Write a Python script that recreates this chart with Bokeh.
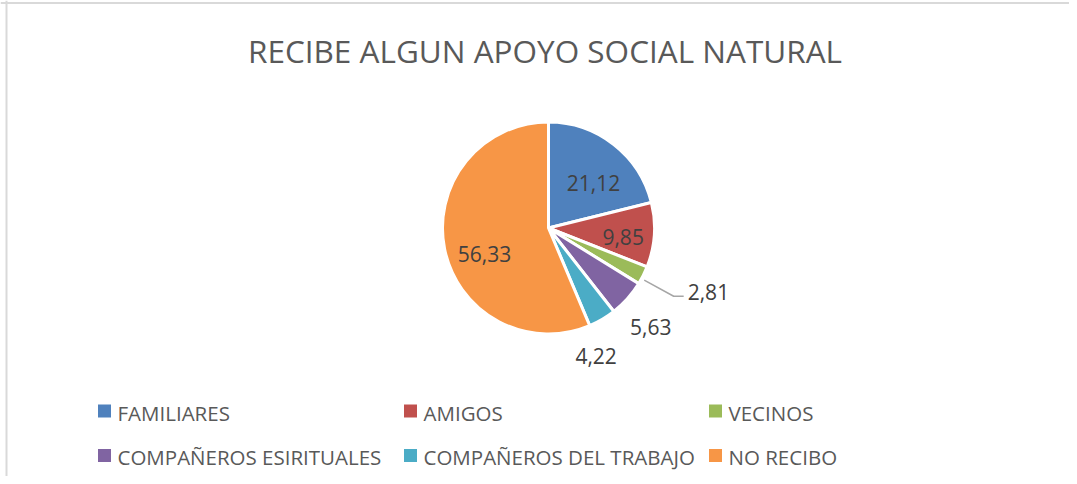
import math
from bokeh.plotting import figure
from bokeh.models import Range1d, ColumnDataSource, Label, Span
from bokeh.core.properties import value
from bokeh.embed import file_html
from bokeh.resources import INLINE

# ---- data ----
title_text = "RECIBE ALGUN APOYO SOCIAL NATURAL"
categories = ["FAMILIARES", "AMIGOS", "VECINOS",
              "COMPAÑEROS ESIRITUALES", "COMPAÑEROS DEL TRABAJO", "NO RECIBO"]
values = [21.12, 9.85, 2.81, 5.63, 4.22, 56.33]
value_labels = ["21,12", "9,85", "2,81", "5,63", "4,22", "56,33"]

# ---- style / layout ----
colors = ["#4F81BD", "#C0504D", "#9BBB59", "#8064A2", "#4BACC6", "#F79646"]
FONT = "Open Sans"
CX, CY, R = 548, 227.5, 106
# label placement: distance from centre (px) and angular nudge (deg); None => leader line
label_dist = [63.6, 75.2, None, 142.5, 136.9, 69.3]
label_nudge = [-7.0, -3.1, -2.0, -2.4, -10.1, 11.0]
leg_col_x = [97, 403, 708]
leg_row_y = [410.5, 455.0]

W, H = 1069, 476
p = figure(width=W, height=H, x_range=Range1d(0, W), y_range=Range1d(H, 0),
           output_backend="svg", toolbar_location=None, min_border=0)
p.axis.visible = False
p.xgrid.visible = False
p.ygrid.visible = False
p.outline_line_color = None
p.background_fill_color = "white"
p.border_fill_color = "white"

# chart-area frame (light grey, top and left visible)
p.add_layout(Span(location=6, dimension="height", line_color="#D9D9D9", line_width=2))
p.add_layout(Span(location=2.5, dimension="width", line_color="#D9D9D9", line_width=2))

total = sum(values)
starts, ends, mids = [], [], []
cum = 0.0
for v in values:
    a0 = math.pi / 2 - cum / total * 2 * math.pi
    cum += v
    a1 = math.pi / 2 - cum / total * 2 * math.pi
    starts.append(a0)
    ends.append(a1)
    mids.append((a0 + a1) / 2)

src = ColumnDataSource(dict(x=[CX] * len(values), y=[CY] * len(values),
                            start=starts, end=ends, color=colors, cat=categories))
p.wedge(x="x", y="y", radius=R, radius_units="screen", start_angle="start", end_angle="end",
        direction="clock", fill_color="color", line_color="white", line_width=3, source=src)

# data labels
lx, ly, lt, lalign = [], [], [], []
for i, lab in enumerate(value_labels):
    ang = mids[i] + math.radians(label_nudge[i])
    if label_dist[i] is None:
        r0, r1 = R + 3, R * 1.345
        x0, y0 = CX + r0 * math.cos(ang), CY - r0 * math.sin(ang)
        x1, y1 = CX + r1 * math.cos(ang), CY - r1 * math.sin(ang)
        x2 = x1 + 10
        p.line([x0, x1, x2], [y0, y1, y1], line_color="#A6A6A6", line_width=1.5)
        lx.append(x2 + 4)
        ly.append(y1 - 4)
        lalign.append("left")
    else:
        d = label_dist[i]
        lx.append(CX + d * math.cos(ang))
        ly.append(CY - d * math.sin(ang))
        lalign.append("center")
    lt.append(lab)
p.text(x=lx, y=ly, text=lt, text_align=lalign, text_baseline="middle",
       text_font=value(FONT), text_font_size="21px", text_color="#404040")

# title
p.add_layout(Label(x=544.5, y=50, text=title_text, text_align="center", text_baseline="middle",
                   text_font=FONT, text_font_size="31.5px", text_color="#595959"))

# legend
gx, gy, tx, ty = [], [], [], []
for i, c in enumerate(categories):
    col, row = i % 3, i // 3
    gx.append(leg_col_x[col] + 7)
    gy.append(leg_row_y[row])
    tx.append(leg_col_x[col] + 20)
    ty.append(leg_row_y[row] + 1.5)
p.scatter(x=gx, y=gy, marker="square", size=13, fill_color=colors, line_color=None)
p.text(x=tx, y=ty, text=categories, text_align="left", text_baseline="middle",
       text_font=value(FONT), text_font_size="20.5px", text_color="#595959")

open("out.html", "w").write(file_html(p, INLINE))
